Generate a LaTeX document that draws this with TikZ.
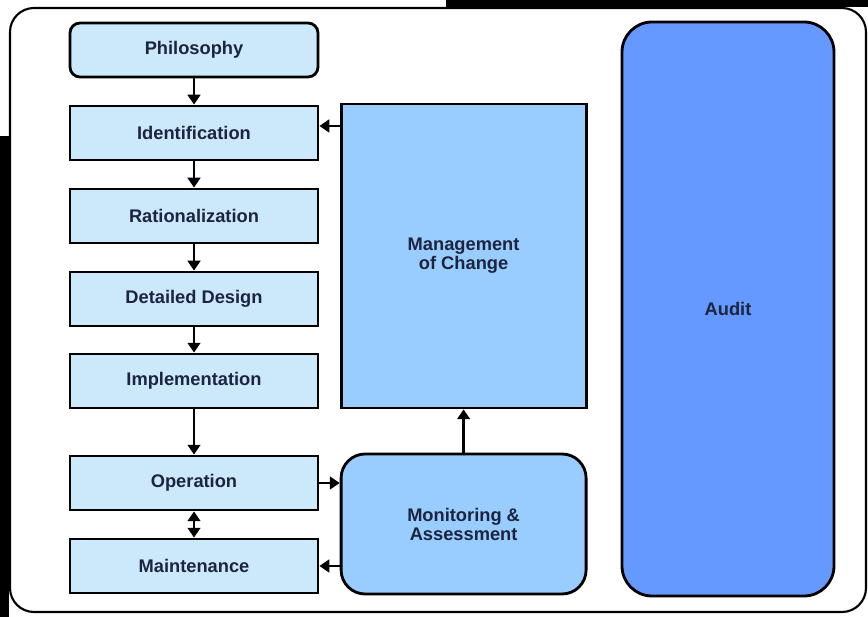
\documentclass[tikz,border=0pt]{standalone}
\usepackage{fontspec}
\setmainfont{Liberation Sans}
\usepackage{xcolor}
\usepackage[]{tikz}
\usetikzlibrary{positioning,calc}
\usetikzlibrary{arrows.meta}
\definecolor{stepblue}{RGB}{204,232,251}
\definecolor{midblue}{RGB}{153,204,255}
\definecolor{deepblue}{RGB}{102,153,255}
\definecolor{navytext}{RGB}{28,36,62}
\tikzset{stage node/.style={rectangle,fill=stepblue,draw,line width=2pt,minimum width=6.2cm,minimum height=1.35cm,inner sep=0pt,text=navytext,align=center,font=\fontsize{13}{13.5}\selectfont\bfseries}}
\tikzset{big node/.style={stage node,fill=midblue,minimum width=6.125cm}}
\tikzset{flow/.style={line width=2pt,-{Triangle[width=9pt,length=7pt]}}}

\begin{document}
\begin{tikzpicture}[auto, on grid, ]
      \useasboundingbox (0,0) rectangle (21.7,-15.425);
      \fill[black] (0,-3.4) rectangle (0.22,-15.425);
      \fill[black] (11.15,0) rectangle (21.7,-0.18);
      \draw[line width=1.5pt,rounded corners=0.6cm,fill=white] (0.25,-0.2) rectangle (21.65,-15.3);
      \node[stage node,rounded corners=0.25cm] (phil) at (4.85,-1.25) {Philosophy};
      \node[stage node] (ident) [below = 2.075cm of phil] {Identification};
      \node[stage node] (ratio) [below = 2.075cm of ident] {Rationalization};
      \node[stage node] (design) [below = 2.075cm of ratio] {Detailed Design};
      \node[stage node] (impl) [below = 2.05cm of design] {Implementation};
      \node[stage node] (oper) [below = 2.55cm of impl] {Operation};
      \node[stage node] (maint) [below = 2.075cm of oper] {Maintenance};
      \node[big node,minimum height=7.6cm] (change) at (11.59,-6.4) {Management\\of Change};
      \node[big node,minimum height=3.5cm,rounded corners=0.6cm] (monitor) [below = 6.7cm of change] {Monitoring \&\\Assessment};
      \node[big node,fill=deepblue,minimum width=5.3cm,minimum height=14.35cm,rounded corners=0.75cm] (audit) at (18.2,-7.725) {Audit};
      \draw[flow] (phil) -- (ident);
      \draw[flow] (ident) -- (ratio);
      \draw[flow] (ratio) -- (design);
      \draw[flow] (design) -- (impl);
      \draw[flow] (impl) -- (oper);
      \draw[flow,{Triangle[width=9pt,length=7pt]}-{Triangle[width=9pt,length=7pt]}] (oper) -- (maint);
      \draw[flow] ([yshift=5pt]change.west |- ident.east) -- ([yshift=5pt]ident.east);
      \draw[flow] (oper.east) -- (oper.east -| monitor.west);
      \draw[flow] (monitor.west |- maint.east) -- (maint.east);
      \draw[flow] (monitor) -- (change);
    \end{tikzpicture}
\end{document}
